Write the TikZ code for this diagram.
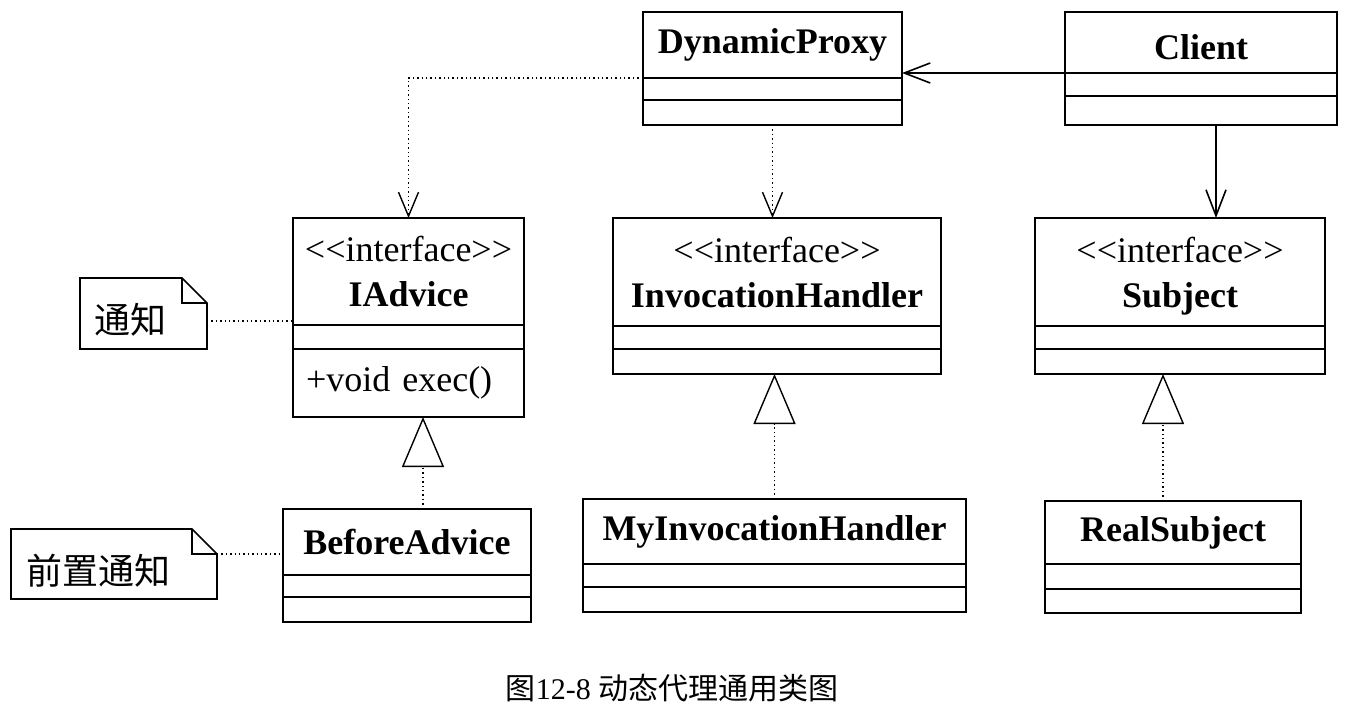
\documentclass[tikz,border=0pt]{standalone}
\usepackage{fontspec}
\setmainfont{Liberation Serif}
\newfontfamily\cjk{Noto Sans CJK SC}
\usepackage{tikz}
\usetikzlibrary{arrows.meta,positioning}

\begin{document}
\begin{tikzpicture}[
    x=1pt, y=-1pt,
    head/.style={draw, line width=1.6pt, outer sep=0pt, inner sep=0pt, anchor=north, align=center, font=\fontsize{36}{45}\selectfont},
    part/.style={draw, line width=1.6pt, outer sep=0pt, inner sep=0pt, font=\fontsize{36}{45}\selectfont},
    note/.style={outer sep=0pt, inner ysep=0pt, minimum height=70pt, text height=44pt, text depth=4pt, align=left, font=\cjk\fontsize{36}{40}\selectfont},
    noteline/.style={line width=1.6pt, line join=miter},
    dotline/.style={line width=1.4pt, dash pattern=on 1.4pt off 3pt},
    dep/.style={dotline, -{Straight Barb[length=24pt, width=20pt]}},
    real/.style={dotline, -{Triangle[length=50pt, width=42pt, fill=white]}},
    assoc/.style={line width=1.6pt, -{Straight Barb[length=26pt, width=20pt]}}
]
\useasboundingbox (0,0) rectangle (1349,709);

% Top row
\node[head, minimum width=259pt, minimum height=66pt] (proxy) at (772.5,12) {\bfseries DynamicProxy};
\node[part, minimum width=259pt, minimum height=22pt, below=0pt of proxy] (proxy1) {};
\node[part, minimum width=259pt, minimum height=25pt, below=0pt of proxy1] (proxy2) {};

\node[head, minimum width=272pt, minimum height=61pt, text height=34pt, text depth=0pt] (client) at (1201,12) {\bfseries Client};
\node[part, minimum width=272pt, minimum height=23pt, below=0pt of client] (client1) {};
\node[part, minimum width=272pt, minimum height=29pt, below=0pt of client1] (client2) {};

% Interfaces
\node[head, minimum width=231pt, minimum height=107pt] (iadvice) at (408.5,218) {<{}<interface>{}>\\\textbf{IAdvice}};
\node[part, minimum width=231pt, minimum height=24pt, below=0pt of iadvice] (iadvice1) {};
\node[part, text width=205pt, inner xsep=13pt, minimum height=68pt, align=left, below=0pt of iadvice1] (iadvice2) {+void exec()};

\node[head, minimum width=328pt, minimum height=108pt] (handler) at (777,218) {<{}<interface>{}>\\\textbf{InvocationHandler}};
\node[part, minimum width=328pt, minimum height=23pt, below=0pt of handler] (handler1) {};
\node[part, minimum width=328pt, minimum height=25pt, below=0pt of handler1] (handler2) {};

\node[head, minimum width=290pt, minimum height=108pt] (subject) at (1180,218) {<{}<interface>{}>\\\smash{\textbf{Subject}}};
\node[part, minimum width=290pt, minimum height=23pt, below=0pt of subject] (subject1) {};
\node[part, minimum width=290pt, minimum height=25pt, below=0pt of subject1] (subject2) {};

% Implementations
\node[head, minimum width=248pt, minimum height=66pt] (before) at (407,509) {\bfseries BeforeAdvice};
\node[part, minimum width=248pt, minimum height=22pt, below=0pt of before] (before1) {};
\node[part, minimum width=248pt, minimum height=25pt, below=0pt of before1] (before2) {};

\node[head, minimum width=383pt, minimum height=65pt] (myhandler) at (774.5,499) {\bfseries MyInvocationHandler};
\node[part, minimum width=383pt, minimum height=23pt, below=0pt of myhandler] (myhandler1) {};
\node[part, minimum width=383pt, minimum height=25pt, below=0pt of myhandler1] (myhandler2) {};

\node[head, minimum width=256pt, minimum height=63pt] (realsub) at (1173,501) {\bfseries RealSubject};
\node[part, minimum width=256pt, minimum height=25pt, below=0pt of realsub] (realsub1) {};
\node[part, minimum width=256pt, minimum height=24pt, below=0pt of realsub1] (realsub2) {};

% Notes
\node[note, text width=99pt, inner xsep=14pt, minimum height=71pt] (note1) at (143.5,313.5) {通知};
\draw[noteline] (note1.north west) -- ([xshift=-25pt]note1.north east) -- ([yshift=-25pt]note1.north east) -- (note1.south east) -- (note1.south west) -- cycle;
\draw[noteline] ([xshift=-25pt]note1.north east) |- ([yshift=-25pt]note1.north east);

\node[note, text width=174pt, inner xsep=16pt] (note2) at (114,564) {前置通知};
\draw[noteline] (note2.north west) -- ([xshift=-25pt]note2.north east) -- ([yshift=-25pt]note2.north east) -- (note2.south east) -- (note2.south west) -- cycle;
\draw[noteline] ([xshift=-25pt]note2.north east) |- ([yshift=-25pt]note2.north east);

% Arrows
\draw[dep] (proxy1.north west) -| (iadvice.north);
\draw[dep] (proxy2.south) -- (proxy2.south |- handler.north);
\draw[assoc] (client1.north west) -- (client1.north west -| proxy.east);
\draw[assoc] ([xshift=15pt]client2.south) -- ([xshift=15pt]client2.south |- subject.north);
\draw[real] ([xshift=16pt]before.north) -- ([xshift=16pt]before.north |- iadvice2.south);
\draw[real] (myhandler.north) -- (myhandler.north |- handler2.south);
\draw[real] ([xshift=-10pt]realsub.north) -- ([xshift=-10pt]realsub.north |- subject2.south);
\draw[dotline] ([yshift=-7.5pt]note1.east) -- ([yshift=-7.5pt]note1.east -| iadvice.west);
\draw[dotline] ([yshift=10pt]note2.east) -- ([yshift=10pt]note2.east -| before.west);

% Caption
\node[font=\fontsize{30}{36}\selectfont] (caption) at (672,688) {{\cjk 图}12-8 {\cjk 动态代理通用类图}};
\end{tikzpicture}
\end{document}
